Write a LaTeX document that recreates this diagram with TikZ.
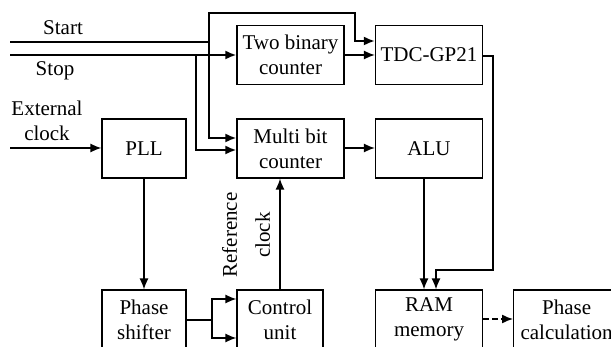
\documentclass[tikz,border=0pt]{standalone}
\usepackage{fontspec}
\setmainfont{Liberation Serif}
\usetikzlibrary{arrows.meta}
\tikzset{
  block/.style={draw,line width=0.6pt,rectangle,align=center,minimum width=53.5pt,minimum height=29.5pt,inner sep=1pt},
  sig/.style={line width=0.7pt,-{Latex[length=5.5pt,width=4.5pt]}},
  wire/.style={line width=1pt},
}
\begin{document}
\begin{tikzpicture}[x=0.5pt,y=-0.5pt,font=\fontsize{10.5}{12.5}\selectfont]
    \clip (0,0) rectangle (611,347);
    %% Blocks
    \node[block] (two) at (290.5,55) {Two binary\\counter};
    \node[block] (tdc) at (429,55) {TDC-GP21};
    \node[block] (multi) at (290.5,148.5) {Multi bit\\counter};
    \node[block] (alu) at (429,148.5) {ALU};
    \node[block,minimum width=42pt] (pll) at (144,148.5) {PLL};
    \node[block,minimum width=42pt] (shifter) at (144,319.5) {Phase\\shifter};
    \node[block,minimum width=43pt] (control) at (280,319.5) {Control\\unit};
    \node[block] (ram) at (429,319.5) {RAM\\memory};
    \node[block,minimum width=53pt,inner xsep=0pt,anchor=west] (calc) at (513,319.5) {Phase\\calculation};
    %% Inputs
    \coordinate (startin) at (10,42);
    \coordinate (stopin) at (10,55);
    \coordinate (extin) at (10,148);
    \node (startlbl) at (63,28) {Start};
    \node (stoplbl) at (55,71) {Stop};
    \node[align=center] (extlbl) at (47,121) {External\\clock};
    %% Start and stop lines
    \draw[wire] (startin) -- (209,42);
    \draw[sig,line width=1pt] (209,42) -- (209,13) -| (355,41) -- (tdc.west |- 0,41);
    \draw[sig,line width=1pt] (209,42) -- (209,138) -- (multi.west |- 0,138);
    \draw[sig,line width=1pt] (stopin) -- (two.west);
    \draw[sig,line width=1pt] (196,55) -- (196,150) -- (multi.west |- 0,150);
    \draw[sig] (two) -- (tdc);
    \draw[sig] (multi.east |- 0,148) -- (alu.west |- 0,148);
    %% Clock path
    \draw[sig] (extin) -- (pll.west |- extin);
    \draw[sig] (pll) -- (shifter);
    \draw[line width=0.7pt] (shifter.east |- 0,320) -- (212,320);
    \draw[sig] (212,320) |- (control.west |- 0,299);
    \draw[sig] (212,320) |- (control.west |- 0,338);
    \draw[sig] (control) -- (multi.south -| control);
    \node[rotate=90,align=center,font=\fontsize{10.5}{16.5}\selectfont] (reflbl) at (246,235) {Reference\\clock};
    %% Results
    \draw[sig] (alu.south -| 424,0) -- (ram.north -| 424,0);
    \draw[sig] (tdc.east |- 0,56) -- (493,56) -- (493,270) -| (ram.north -| 436,0);
    \draw[sig,dash pattern=on 3pt off 1.5pt] (ram.east |- 0,319) -- (calc.west |- 0,319);
\end{tikzpicture}
\end{document}
